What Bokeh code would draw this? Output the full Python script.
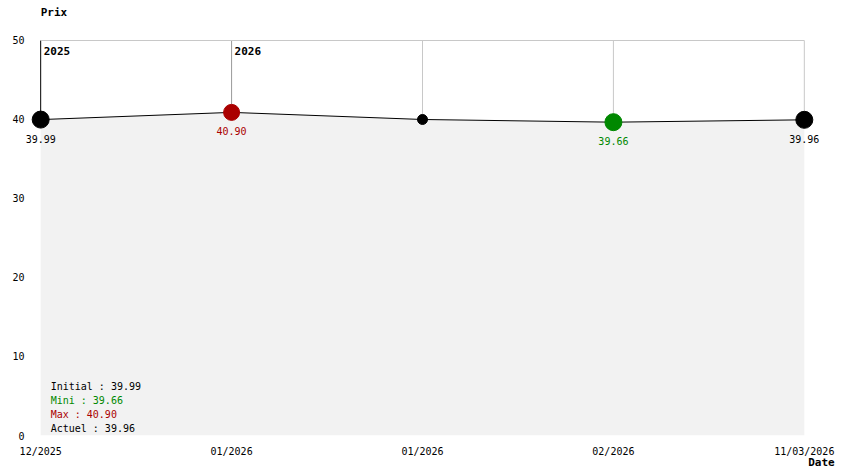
from bokeh.plotting import figure
from bokeh.models import Range1d, Label, ColumnDataSource, FixedTicker
from bokeh.embed import file_html
from bokeh.resources import INLINE

# ---- data ----
date_labels = ["12/2025", "01/2026", "01/2026", "02/2026", "11/03/2026"]
prices = [39.99, 40.90, 40.00, 39.66, 39.96]
year_marks = ["2025", "2026"]
year_positions = [0, 1]
y_ticks = [0, 10, 20, 30, 40, 50]

FONT = "DejaVu Sans Mono"
RED = "#aa0000"
GREEN = "#008800"
PAD = 0.09
Y_TOP = 54.81  # extra white room above 50 for the "Prix" title

xs = list(range(len(prices)))
n = len(prices) - 1
imin = prices.index(min(prices))
imax = prices.index(max(prices))

p = figure(frame_width=798, frame_height=433, output_backend="svg", toolbar_location=None,
           x_range=Range1d(-PAD, n + PAD), y_range=Range1d(0, Y_TOP),
           min_border_left=23, min_border_right=23, min_border_top=2, min_border_bottom=39)
p.outline_line_color = None
p.background_fill_color = "white"

# axes
for ax in (p.xaxis[0], p.yaxis[0]):
    ax.axis_line_color = None
    ax.major_tick_line_color = None
    ax.minor_tick_line_color = None
    ax.major_label_text_font = FONT
    ax.major_label_text_font_size = "10px"
    ax.major_label_text_color = "black"
p.yaxis[0].ticker = FixedTicker(ticks=y_ticks)
p.yaxis[0].major_label_standoff = -7
p.xaxis[0].ticker = FixedTicker(ticks=xs)
p.xaxis[0].major_label_overrides = {i: l for i, l in enumerate(date_labels)}
p.xaxis[0].major_label_standoff = 4
p.xaxis[0].axis_label = "Date"
p.xaxis[0].axis_label_text_font = FONT
p.xaxis[0].axis_label_text_font_size = "11px"
p.xaxis[0].axis_label_text_font_style = "bold"
p.xaxis[0].axis_label_text_color = "black"
p.xaxis[0].axis_label_standoff = -4
p.xaxis[0].axis_label_align = "end"

p.xgrid.grid_line_color = None
p.ygrid.grid_line_color = None

# vertical guides from each point up to the top, and top border line
grid_colors = []
for i in xs:
    if i == year_positions[0]:
        grid_colors.append("black")
    elif i in year_positions:
        grid_colors.append("#999999")
    else:
        grid_colors.append("#c8c8c8")
p.segment(x0=xs, y0=prices, x1=xs, y1=[50] * len(xs), line_color=grid_colors, line_width=1)
p.segment(x0=[0], y0=[50], x1=[n], y1=[50], line_color="#c8c8c8", line_width=1)

# area fill
p.varea(x=xs, y1=[0] * len(xs), y2=prices, fill_color="#f2f2f2")
p.line(xs, prices, line_color="black", line_width=1)

colors, sizes, lab_colors = [], [], []
for i in xs:
    if i == imax:
        colors.append(RED); sizes.append(16); lab_colors.append(RED)
    elif i == imin:
        colors.append(GREEN); sizes.append(17); lab_colors.append(GREEN)
    elif i == 0 or i == n:
        colors.append("black"); sizes.append(17); lab_colors.append("black")
    else:
        colors.append("black"); sizes.append(10); lab_colors.append(None)

src = ColumnDataSource(dict(x=xs, y=prices, c=colors, s=sizes))
p.scatter("x", "y", source=src, size="s", fill_color="c", line_color="c")

for i in xs:
    if lab_colors[i] is not None:
        p.add_layout(Label(x=i, y=prices[i], text="%.2f" % prices[i], y_offset=-19, text_font=FONT,
                           text_font_size="10px", text_color=lab_colors[i], text_align="center",
                           text_baseline="middle"))

# year labels
for yl, yp in zip(year_marks, year_positions):
    p.add_layout(Label(x=yp, y=50, text=yl, x_offset=3, y_offset=-11, text_font=FONT,
                       text_font_size="11px", text_font_style="bold", text_baseline="middle",
                       text_color="black"))

# y axis title
p.add_layout(Label(x=0, y=50, text="Prix", y_offset=28, text_font=FONT, text_color="black",
                   text_font_size="11px", text_font_style="bold", text_baseline="middle"))

# summary legend
summary = [("Initial : %.2f" % prices[0], "black"),
           ("Mini : %.2f" % prices[imin], GREEN),
           ("Max : %.2f" % prices[imax], RED),
           ("Actuel : %.2f" % prices[-1], "black")]
for k, (t, c) in enumerate(summary):
    p.add_layout(Label(x=0, y=0, text=t, x_offset=10, y_offset=49 - 14 * k, text_font=FONT,
                       text_font_size="10px", text_color=c, text_baseline="middle"))

open("out.html", "w").write(file_html(p, INLINE))
